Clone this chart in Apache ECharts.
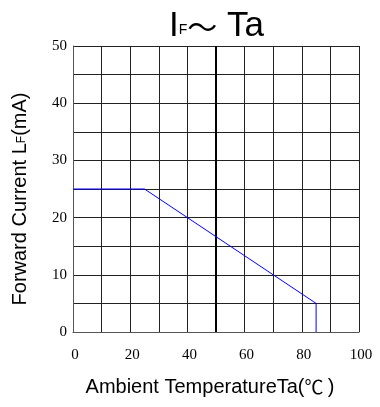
<!DOCTYPE html>
<html>
<head>
<meta charset="utf-8">
<script src="https://cdn.jsdelivr.net/npm/echarts@6/dist/echarts.min.js"></script>
<style>
  html, body { margin: 0; padding: 0; background: #fff; }
  #main { width: 380px; height: 407px; }
</style>
</head>
<body>
<div id="main"></div>
<script>
// 数据
var tempPoints = [0, 25, 85, 85];       // Ta (℃)
var currentPoints = [25, 25, 5, 0];     // IF (mA)
var xTickLabels = [0, 20, 40, 60, 80, 100];
var yTickLabels = [0, 10, 20, 30, 40, 50];

var chart = echarts.init(document.getElementById('main'));

var lineData = [];
for (var i = 0; i < tempPoints.length; i++) {
    lineData.push([tempPoints[i], currentPoints[i]]);
}

var option = {
    backgroundColor: '#fff',
    animation: false,
    title: {
        text: '{big|I}{sub|F}{wave|〜}{big| Ta}',
        left: 164,
        top: 4,
        textStyle: {
            fontWeight: 'normal',
            rich: {
                big: { fontFamily: 'Liberation Sans', fontSize: 35, color: '#000', fontWeight: 'normal', verticalAlign: 'bottom' },
                sub: { fontFamily: 'Liberation Sans', fontSize: 14, color: '#000', fontWeight: 'normal', verticalAlign: 'bottom', padding: [0, 0, 7, 0] },
                wave: { fontFamily: 'Noto Sans CJK SC', fontSize: 30, color: '#000', fontWeight: 'normal' }
            }
        }
    },
    grid: {
        left: 73,
        top: 46,
        width: 286,
        height: 286
    },
    xAxis: {
        type: 'value',
        min: 0,
        max: 100,
        interval: 10,
        name: '{a|Ambient TemperatureTa(}{c|℃ }{a|)}',
        nameLocation: 'middle',
        nameGap: 45,
        nameTextStyle: {
            padding: [0, 12, 0, 0],
            rich: {
                a: { fontFamily: 'Liberation Sans', fontSize: 20, color: '#000' },
                c: { fontFamily: 'Noto Sans CJK SC', fontSize: 19, color: '#000' }
            }
        },
        axisLine: { show: true, lineStyle: { color: '#555', width: 1 } },
        axisTick: { show: false },
        axisLabel: {
            margin: 16,
            fontFamily: 'Liberation Serif',
            fontSize: 15,
            color: '#000',
            padding: [0, 0, 0, 4],
            formatter: function (v) {
                return xTickLabels.indexOf(v) >= 0 ? String(v) : '';
            }
        },
        splitLine: { show: true, lineStyle: { color: '#222', width: 1 } }
    },
    yAxis: {
        type: 'value',
        min: 0,
        max: 50,
        interval: 5,
        name: '{a|Forward Current L}{b|F}{a|(mA)}',
        nameLocation: 'middle',
        nameGap: 43,
        nameTextStyle: {
            padding: [0, 0, 0, -20],
            rich: {
                a: { fontFamily: 'Liberation Sans', fontSize: 20, color: '#000', verticalAlign: 'bottom' },
                b: { fontFamily: 'Liberation Sans', fontSize: 12, color: '#000', verticalAlign: 'bottom', padding: [0, 0, 2, 0] }
            }
        },
        axisLine: { show: true, lineStyle: { color: '#555', width: 1 } },
        axisTick: { show: false },
        axisLabel: {
            margin: 6,
            fontFamily: 'Liberation Serif',
            fontSize: 15,
            color: '#000',
            padding: [4, 0, 0, 0],
            formatter: function (v) {
                return yTickLabels.indexOf(v) >= 0 ? String(v) : '';
            }
        },
        splitLine: { show: true, lineStyle: { color: '#222', width: 1 } }
    },
    series: [{
        type: 'line',
        data: lineData,
        symbol: 'none',
        lineStyle: { color: '#0000ff', width: 1 },
        markLine: {
            silent: true,
            symbol: 'none',
            label: { show: false },
            lineStyle: { color: '#000', width: 2, type: 'solid' },
            data: [{ xAxis: 50 }]
        },
        z: 5
    }]
};

chart.setOption(option);
</script>
</body>
</html>
